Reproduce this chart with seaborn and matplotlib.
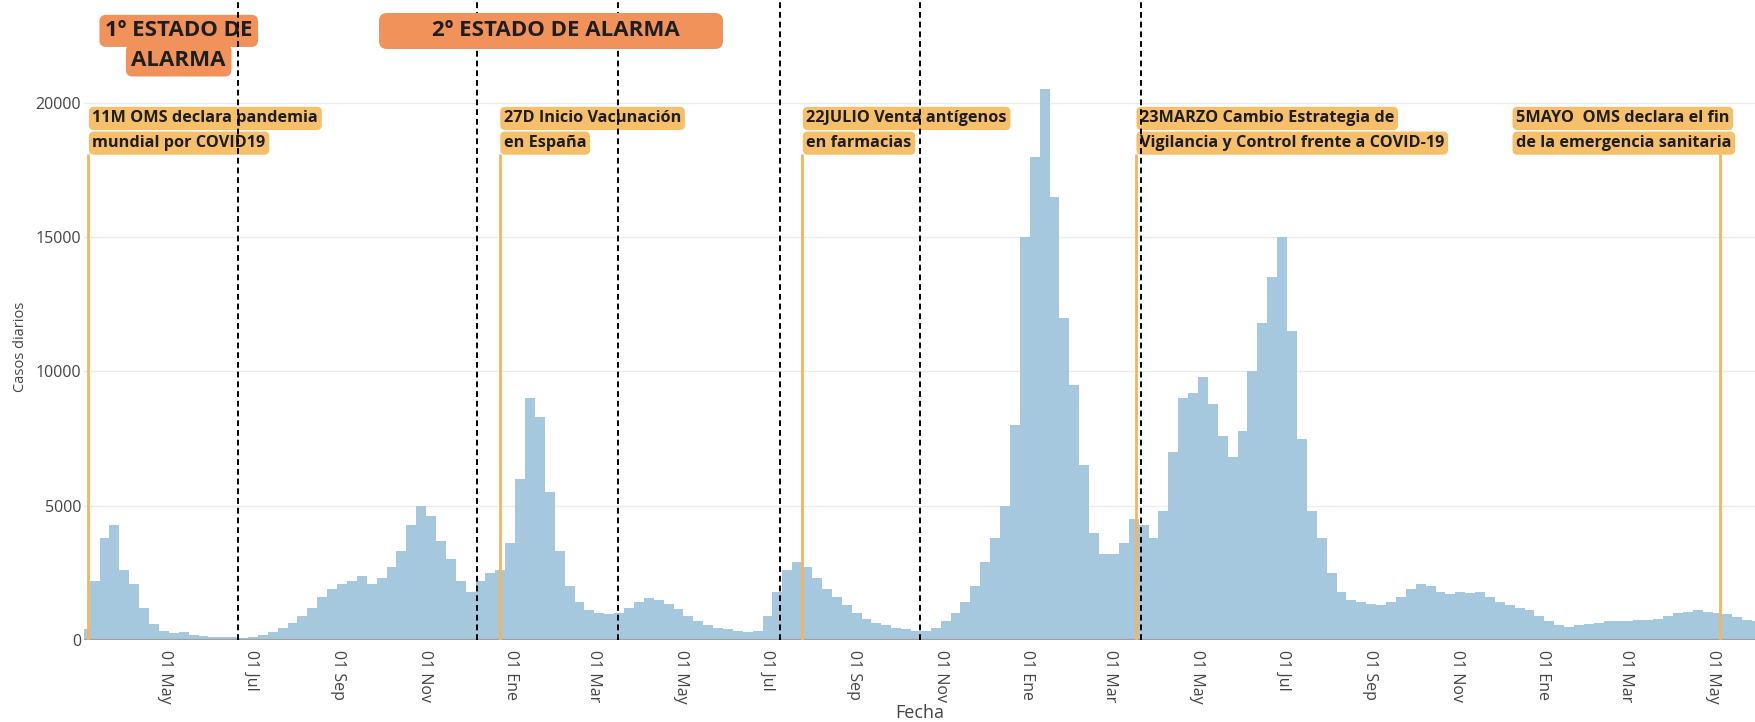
import matplotlib
matplotlib.use("Agg")
import matplotlib.pyplot as plt
import seaborn as sns
import pandas as pd
from matplotlib import font_manager
from matplotlib.patches import FancyBboxPatch
from matplotlib.transforms import IdentityTransform

# casos diarios (media semanal aprox.), semanas que empiezan el lunes 2020-03-02
weekly_cases = [
    400, 2200, 3800, 4300, 2600, 2100, 1200, 600, 350, 250,
    300, 180, 150, 130, 110, 100, 90, 120, 200, 300,
    450, 650, 900, 1200, 1600, 1900, 2100, 2200, 2400, 2100,
    2300, 2700, 3300, 4300, 5000, 4600, 3700, 3000, 2200, 1800,
    2200, 2500, 2600, 3600, 6000, 9000, 8300, 5500, 3300, 2000,
    1400, 1100, 1000, 950, 1000, 1200, 1400, 1550, 1500, 1350,
    1150, 900, 700, 550, 450, 400, 350, 300, 350, 900,
    1800, 2600, 2900, 2700, 2300, 1900, 1600, 1300, 1000, 800,
    650, 550, 450, 400, 350, 350, 450, 700, 1000, 1400,
    2000, 2900, 3800, 5000, 8000, 15000, 18000, 20500, 16500, 12000,
    9500, 6500, 4000, 3200, 3200, 3600, 4500, 4300, 3800, 4800,
    7000, 9000, 9200, 9800, 8800, 7600, 6800, 7800, 10000, 11800,
    13500, 15000, 11500, 7500, 4800, 3800, 2500, 1800, 1500, 1400,
    1350, 1300, 1400, 1600, 1900, 2100, 2000, 1800, 1700, 1800,
    1750, 1800, 1600, 1400, 1300, 1200, 1100, 900, 700, 550,
    500, 550, 600, 650, 700, 700, 700, 750, 750, 800,
    900, 1000, 1050, 1100, 1050, 1000, 950, 850, 750, 700,
]
week_start = pd.date_range("2020-03-02", periods=len(weekly_cases), freq="7D")

tick_dates = pd.date_range("2020-05-01", "2023-05-01", freq="2MS")
tick_labels = ["01 May", "01 Jul", "01 Sep", "01 Nov", "01 Ene", "01 Mar"] * 3 + ["01 May"]

# lineas discontinuas (olas / estados de alarma)
wave_limits = pd.to_datetime(["2020-06-22", "2020-12-08", "2021-03-18",
                              "2021-07-10", "2021-10-17", "2022-03-23"])

# hitos
event_dates = pd.to_datetime(["2020-03-08", "2020-12-24", "2021-07-26",
                              "2022-03-19", "2023-05-06"])
event_label_dates = pd.to_datetime(["2020-03-11", "2020-12-27", "2021-07-29",
                                    "2022-03-22", "2022-12-13"])
event_texts = [
    ("11M OMS declara pandemia", "mundial por COVID19"),
    ("27D Inicio Vacunación", "en España"),
    ("22JULIO Venta antígenos", "en farmacias"),
    ("23MARZO Cambio Estrategia de", "Vigilancia y Control frente a COVID-19"),
    ("5MAYO  OMS declara el fin", "de la emergencia sanitaria"),
]

sns.set_theme(style="white")
installed = {f.name for f in font_manager.fontManager.ttflist}
if "Liberation Sans Narrow" in installed:
    note_font, note_size, big_size = "Liberation Sans Narrow", 13.5, 19
else:
    note_font, note_size, big_size = "Open Sans", 11.7, 16
plt.rcParams["font.family"] = ["Open Sans", "DejaVu Sans"]

fig = plt.figure(figsize=(17.55, 7.22), dpi=100)
ax = fig.add_axes([84 / 1755, 82 / 722, 1671 / 1755, 640 / 722])

first = matplotlib.dates.date2num(week_start[0])
last = matplotlib.dates.date2num(week_start[-1]) + 7
sns.histplot(x=week_start, weights=weekly_cases, binwidth=7, binrange=(first, last),
             color="#a5c8de", alpha=1, linewidth=0, ax=ax, zorder=2)

ax.set_xlim(pd.Timestamp("2020-03-05"), pd.Timestamp("2023-05-31"))
ax.set_ylim(0, 23830)
sns.despine(ax=ax, left=True, bottom=True)

ax.set_yticks([0, 5000, 10000, 15000, 20000])
ax.set_yticklabels(["0", "5000", "10000", "15000", "20000"])
ax.set_xticks(tick_dates)
ax.set_xticklabels(tick_labels, rotation=-90, ha="center", va="top")
ax.tick_params(axis="both", length=0, labelsize=11.5, labelcolor="#444444")
ax.tick_params(axis="x", pad=7)
ax.tick_params(axis="y", pad=2)
ax.grid(axis="y", color="#ebebeb", lw=1)
ax.set_axisbelow(True)
ax.axhline(0, color="#a0a0a0", lw=1.6, zorder=3)

ax.set_ylabel("Casos diarios", fontsize=10.5, color="#444444")
ax.yaxis.set_label_coords(-0.0335, 0.458)
ax.set_xlabel("Fecha", fontsize=13, color="#444444")
ax.xaxis.set_label_coords(0.5, -0.114)
ax.xaxis.label.set_va("center")

# hitos en amarillo
ax.vlines(event_dates, 0, 18100, color="#f4b55c", lw=2, zorder=3)
for xd, (l1, l2) in zip(event_label_dates, event_texts):
    for txt, yv, z in ((l2, 18500, 4), (l1, 19420, 5)):
        ax.text(xd, yv, txt, fontsize=note_size, fontweight="bold", family=note_font,
                color="#1e1e1e", ha="left", va="center", zorder=z,
                bbox=dict(boxstyle="round,pad=0.22,rounding_size=0.3", fc="#f6bf6a", ec="none"))

# estados de alarma
alarm_box = dict(boxstyle="round,pad=0.25,rounding_size=0.3", fc="#f0925a", ec="none")
for txt, yv in (("1º ESTADO DE", 22680), ("ALARMA", 21580)):
    ax.text(pd.Timestamp("2020-05-11"), yv, txt, fontsize=big_size, fontweight="bold",
            family=note_font, color="#1e1e1e", ha="center", va="center", zorder=4,
            bbox=alarm_box)
fig.add_artist(FancyBboxPatch((379, 673), 344, 36, boxstyle="round,pad=0,rounding_size=8",
                              fc="#f0925a", ec="none", transform=IdentityTransform(), zorder=4))
fig.text(556 / 1755, 1 - 31 / 722, "2º ESTADO DE ALARMA", fontsize=big_size, fontweight="bold",
         family=note_font, color="#1e1e1e", ha="center", va="center", zorder=5)

for d in wave_limits:
    ax.axvline(d, color="black", lw=1.4, ls=(0, (3, 2)), zorder=6)

fig.savefig("out.png", dpi=100)
